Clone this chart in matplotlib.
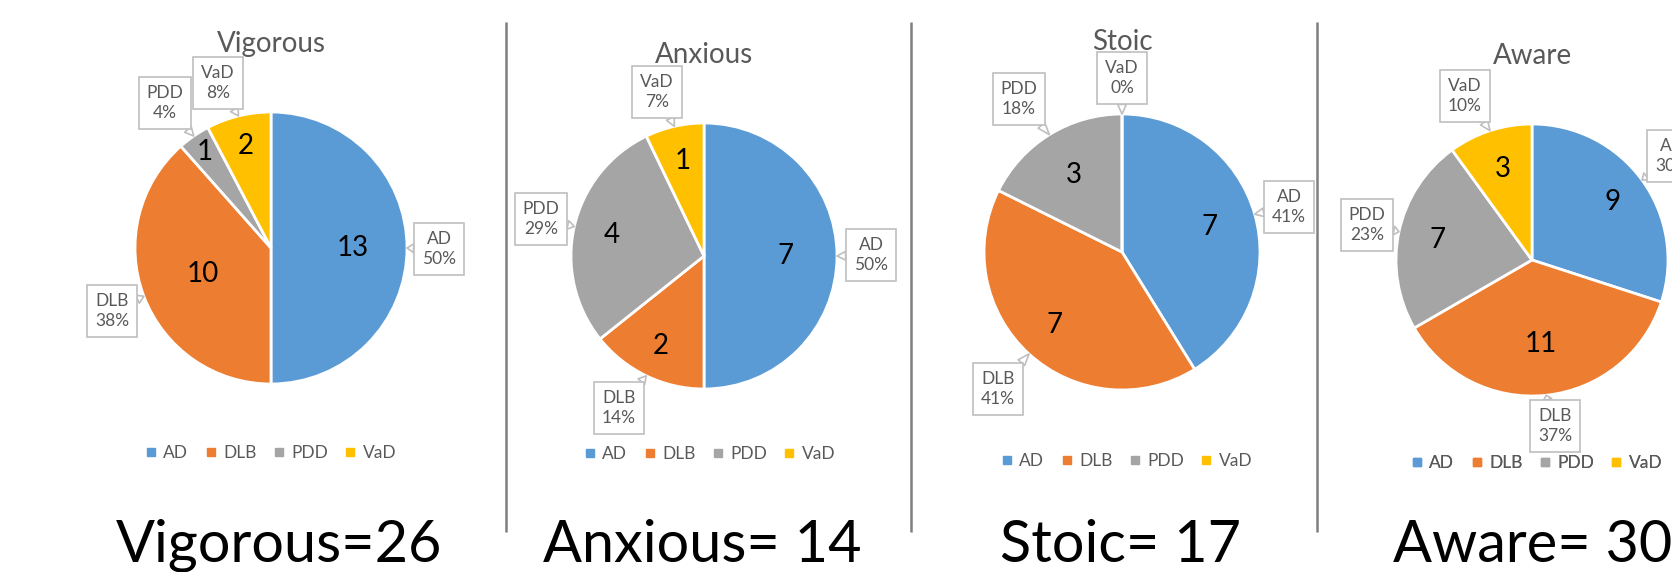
import matplotlib
matplotlib.use("Agg")
import matplotlib.pyplot as plt
from matplotlib.lines import Line2D
import numpy as np

plt.rcParams["font.family"] = ["Lato", "DejaVu Sans"]

# counts per diagnosis for each personality group
categories = ["AD", "DLB", "PDD", "VaD"]
groups = ["Vigorous", "Anxious", "Stoic", "Aware"]
vigorous = [13, 10, 1, 2]
anxious = [7, 2, 4, 1]
stoic = [7, 7, 3, 0]
aware = [9, 11, 7, 3]
caption_sep = ["=", "= ", "= ", "= "]

colors = ["#5B9BD5", "#ED7D31", "#A5A5A5", "#FFC000"]
grey_txt = "#595959"

W, H = 1672, 572

# layout in pixels measured from the top-left corner
pie_centers = [(271, 248), (704, 256), (1122, 252), (1532, 260)]
radii = [136, 133, 138, 136]
title_pos = [(271, 44), (704, 55), (1122, 42), (1533, 56)]
legend_pos = [(271, 453), (710, 454), (1127, 461), (1537, 463)]
caption_x = [279, 702, 1120, 1533]
caption_y = 562
callout_pos = [
    [(439, 249), (112, 311), (165, 103), (218, 83)],
    [(871, 255), (619, 408), (541, 219), (657, 92)],
    [(1289, 207), (998, 389), (1019, 99), (1122, 78)],
    [(1672, 156), (1555, 426), (1367, 225), (1465, 96)],
]
label_dist = [
    [0.60, 0.54, 0.86, 0.77],
    [0.61, 0.75, 0.71, 0.73],
    [0.66, 0.72, 0.66, 0.70],
    [0.73, 0.62, 0.71, 0.70],
]
dividers = [506, 911, 1317]

fig = plt.figure(figsize=(W / 100, H / 100), dpi=100)
ax = fig.add_axes([0, 0, 1, 1])

all_values = [vigorous, anxious, stoic, aware]

for i, (name, vals) in enumerate(zip(groups, all_values)):
    cx, cy = pie_centers[i]
    r = radii[i]
    cy = H - cy
    wedges, _ = ax.pie(vals, colors=colors, startangle=90, counterclock=False,
                       center=(cx, cy), radius=r,
                       wedgeprops=dict(edgecolor="white", linewidth=2))
    total = sum(vals)

    for j, w in enumerate(wedges):
        mid = np.deg2rad((w.theta1 + w.theta2) / 2)
        # count inside the slice
        if vals[j] > 0:
            f = label_dist[i][j]
            ax.text(cx + f * r * np.cos(mid), cy + f * r * np.sin(mid), str(vals[j]),
                    ha="center", va="center", fontsize=20, color="black")
        # callout with category and share
        bx, by = callout_pos[i][j]
        pct = round(100 * vals[j] / total)
        ax.annotate(f"{categories[j]}\n{pct}%",
                    xy=(cx + r * np.cos(mid), cy + r * np.sin(mid)),
                    xytext=(bx, H - by), ha="center", va="center",
                    fontsize=12.5, color=grey_txt, linespacing=1.3,
                    bbox=dict(boxstyle="square,pad=0.45", fc="white", ec="#BFBFBF", lw=1.2),
                    arrowprops=dict(arrowstyle="wedge,tail_width=0.5,shrink_factor=0.5",
                                    fc="white", ec="#BFBFBF", lw=1.2,
                                    shrinkA=0, shrinkB=0),
                    zorder=4)

    tx, ty = title_pos[i]
    ax.text(tx, H - ty, name, ha="center", va="center", fontsize=20, color=grey_txt, zorder=3)

    handles = [Line2D([], [], marker="s", linestyle="none", markersize=5.5,
                      color=c) for c in colors]
    lx, ly = legend_pos[i]
    leg = ax.legend(handles, categories, loc="center", bbox_to_anchor=(lx, H - ly),
                    bbox_transform=ax.transData, ncol=4, frameon=False,
                    fontsize=12.5, labelcolor=grey_txt, handlelength=0.6,
                    handletextpad=0.4, columnspacing=1.0, borderpad=0)
    ax.add_artist(leg)

    ax.text(caption_x[i], H - caption_y, f"{name}{caption_sep[i]}{total}",
            ha="center", va="baseline", fontsize=41.5, color="black")

for x in dividers:
    ax.plot([x, x], [H - 22, H - 532], color="#7F7F7F", lw=1.8, solid_capstyle="butt")

ax.set_xlim(0, W)
ax.set_ylim(0, H)
ax.axis("off")

fig.savefig("out.png", dpi=100)
